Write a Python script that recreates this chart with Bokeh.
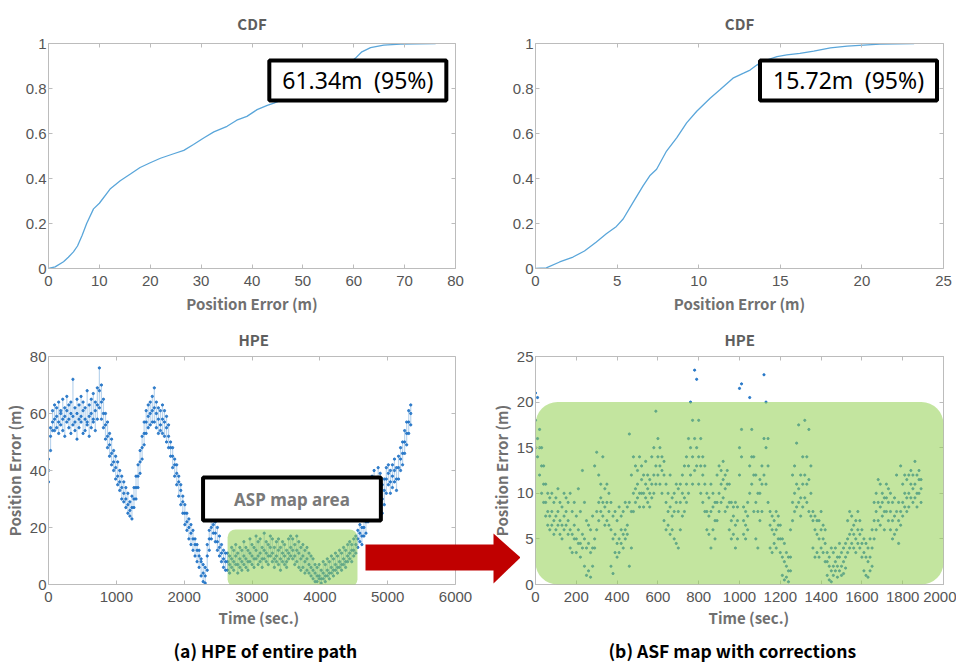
from bokeh.plotting import figure
from bokeh.layouts import row, column
from bokeh.models import (Range1d, LinearAxis, FixedTicker, Label, BoxAnnotation,
                          PolyAnnotation, Title)
from bokeh.embed import file_html
from bokeh.resources import INLINE

# ---------------- data ----------------
cdf_a_x = [0, 1.3, 2.95, 3.9, 4.9, 5.7, 6.6, 7.5, 8.85, 10, 12.1, 14.1, 16.1, 18, 20, 22, 24.6,
           26.6, 28.5, 30.5, 32.5, 35.1, 37, 39, 41, 43, 44.3, 46, 48, 50, 52, 54, 56, 58, 59,
           60.3, 61.6, 63.3, 65.9, 69.2, 72.5, 76.1]
cdf_a_y = [0, 0.007, 0.03, 0.05, 0.074, 0.1, 0.147, 0.2, 0.265, 0.29, 0.353, 0.39, 0.42, 0.449,
           0.47, 0.49, 0.51, 0.525, 0.551, 0.58, 0.607, 0.632, 0.659, 0.676, 0.706, 0.725, 0.735,
           0.75, 0.77, 0.79, 0.81, 0.83, 0.86, 0.89, 0.91, 0.934, 0.963, 0.982, 0.993, 0.997,
           0.9985, 1.0]
cdf_b_x = [0, 0.66, 1.48, 2.3, 3.0, 3.73, 4.34, 4.96, 5.37, 5.98, 6.6, 7.0, 7.42, 8.03, 8.65,
           9.26, 9.88, 10.7, 11.3, 12.1, 12.75, 13.15, 13.56, 13.8, 14.3, 14.8, 15.4, 16.2,
           17.05, 18.07, 19.1, 20.1, 21.1, 22.2, 23.2]
cdf_b_y = [0, 0.003, 0.029, 0.051, 0.078, 0.118, 0.154, 0.187, 0.22, 0.294, 0.368, 0.412, 0.441,
           0.522, 0.581, 0.647, 0.699, 0.757, 0.794, 0.846, 0.868, 0.882, 0.904, 0.915, 0.93,
           0.942, 0.949, 0.956, 0.966, 0.981, 0.988, 0.993, 0.997, 0.9985, 1.0]

hpe_a_time = [0, 30, 60, 90, 120, 150, 180, 210, 240, 270, 300, 330, 360, 390, 420, 450, 480,
              510, 540, 570, 600, 630, 660, 690, 720, 750, 780, 810, 840, 870, 900, 930, 960,
              990, 1020, 1050, 1080, 1110, 1140, 1170, 1200, 1230, 1260, 1290, 1320, 1350, 1380,
              1410, 1440, 1470, 1500, 1530, 1560, 1590, 1620, 1650, 1680, 1710, 1740, 1770, 1800,
              1830, 1860, 1890, 1920, 1950, 1980, 2010, 2040, 2070, 2100, 2130, 2160, 2190, 2220,
              2250, 2280, 2310, 2340, 2370, 2400, 2430, 2460, 2490, 2520, 2550, 2580, 2610, 2640,
              2670, 2700, 2730, 2760, 2790, 2820, 2850, 2880, 2910, 2940, 2970, 3000, 3030, 3060,
              3090, 3120, 3150, 3180, 3210, 3240, 3270, 3300, 3330, 3360, 3390, 3420, 3450, 3480,
              3510, 3540, 3570, 3600, 3630, 3660, 3690, 3720, 3750, 3780, 3810, 3840, 3870, 3900,
              3930, 3960, 3990, 4020, 4050, 4080, 4110, 4140, 4170, 4200, 4230, 4260, 4290, 4320,
              4350, 4380, 4410, 4440, 4470, 4500, 4530, 4560, 4590, 4620, 4650, 4680, 4710, 4740,
              4770, 4800, 4830, 4860, 4890, 4920, 4950, 4980, 5010, 5040, 5070, 5100, 5130, 5160,
              5190, 5220, 5250, 5280, 5310, 5340]
hpe_a_mid = [40, 52, 57,
             58, 59, 57, 60, 58, 59, 61, 58, 60, 59, 57, 60, 58, 59, 61, 58, 57, 59, 60, 58, 61, 63,
             68, 64, 60, 56, 52,
             49, 46, 43, 41, 38, 36, 34, 32, 30, 28, 26,
             27, 30, 34, 38, 43, 48, 53, 57,
             59, 60, 61, 62, 60, 58, 56, 58, 57, 55,
             52, 48, 45, 42, 39, 36, 33, 29, 25, 22, 20, 18, 16, 14, 12, 10, 8, 4, 3,
             10, 16, 20, 21, 18, 15, 13, 11, 9, 8,
             8, 7, 9, 8, 10, 7, 9, 8, 10, 9, 8, 11, 10, 9, 12, 10, 11, 9, 12, 11,
             10, 13, 11, 9, 10, 12, 9, 11, 10, 8, 11, 13, 12, 10, 12, 11, 9, 10, 8, 9,
             7, 6, 5, 4, 3, 3, 2, 4, 3, 5, 4, 6, 5, 7, 6, 8, 7, 9, 8, 10, 11, 12, 12, 14,
             16, 18, 17, 20, 22, 26, 30, 33, 35, 31, 36, 34, 30, 33, 37, 39, 36, 38, 40, 37,
             41, 44, 46, 50, 53, 57, 60]
hpe_a_high = [44, 55, 61,
              63, 62, 64, 61, 65, 62, 66, 63, 64, 72, 62, 65, 63, 66, 64, 62, 68, 63, 65, 67, 64, 69,
              76, 70, 65, 60, 57,
              53, 51, 47, 45, 43, 40, 38, 36, 34, 32, 29,
              31, 34, 38, 42, 47, 52, 57, 61,
              63, 64, 66, 69, 64, 62, 61, 63, 61, 59,
              56, 50, 48, 44, 42, 38, 35, 31, 28, 25, 23, 21, 19, 16, 14, 12, 9, 7, 6,
              14, 19, 23, 24, 22, 20, 17, 14, 12, 11,
              11, 10, 13, 12, 14, 11, 13, 12, 15, 13, 12, 16, 14, 13, 17, 15, 16, 13, 18, 15,
              14, 17, 16, 13, 15, 16, 13, 15, 14, 12, 16, 17, 16, 14, 17, 15, 13, 14, 12, 13,
              11, 10, 9, 7, 6, 7, 5, 8, 7, 9, 8, 10, 9, 11, 10, 12, 11, 13, 12, 14, 15, 14, 16, 17,
              19, 21, 20, 23, 25, 30, 34, 38, 40, 36, 41, 39, 35, 37, 41, 42, 40, 42, 44, 41,
              45, 48, 50, 54, 57, 61, 63]
hpe_a_low = [36, 47, 54,
             54, 55, 53, 56, 54, 52, 57, 55, 53, 56, 54, 51, 55, 57, 53, 54, 56, 52, 55, 57, 54, 58,
             62, 58, 55, 51, 48,
             45, 42, 40, 37, 35, 33, 30, 29, 27, 25, 24,
             23, 27, 30, 34, 39, 44, 49, 53,
             55, 56, 57, 57, 55, 53, 54, 53, 52, 50,
             48, 45, 41, 38, 35, 31, 28, 25, 21, 19, 16, 14, 12, 10, 8, 6, 3, 1, 0.5,
             5, 12, 16, 18, 15, 12, 10, 8, 6, 5,
             5, 4, 6, 5, 7, 4, 6, 5, 7, 6, 5, 8, 7, 6, 9, 7, 8, 6, 9, 8,
             7, 10, 8, 6, 8, 7, 5, 8, 7, 6, 9, 10, 9, 7, 8, 6, 5, 6, 4, 5,
             4, 3, 2, 1, 1, 2, 0.5, 2, 1, 3, 2, 4, 3, 5, 4, 6, 5, 7, 6, 8, 9, 8, 10, 11,
             13, 15, 14, 17, 18, 22, 26, 29, 30, 26, 31, 29, 25, 28, 32, 35, 32, 34, 36, 33,
             37, 40, 42, 46, 49, 53, 56]

hpe_b_time = [0, 10, 20, 30, 40, 50, 60, 70, 80, 90, 100, 110, 120, 130, 140, 150, 160, 170, 180,
              190, 200, 210, 220, 230, 240, 250, 260, 270, 280, 290, 300, 310, 320, 330, 340, 350,
              360, 370, 380, 390, 400, 410, 420, 430, 440, 450, 460, 470, 480, 490, 500, 510, 520,
              530, 540, 550, 560, 570, 580, 590, 600, 610, 620, 630, 640, 650, 660, 670, 680, 690,
              700, 710, 720, 730, 740, 750, 760, 770, 780, 790, 800, 810, 820, 830, 840, 850, 860,
              870, 880, 890, 900, 910, 920, 930, 940, 950, 960, 970, 980, 990, 1000, 1010, 1020,
              1030, 1040, 1050, 1060, 1070, 1080, 1090, 1100, 1110, 1120, 1130, 1140, 1150, 1160,
              1170, 1180, 1190, 1200, 1210, 1220, 1230, 1240, 1250, 1260, 1270, 1280, 1290, 1300,
              1310, 1320, 1330, 1340, 1350, 1360, 1370, 1380, 1390, 1400, 1410, 1420, 1430, 1440,
              1450, 1460, 1470, 1480, 1490, 1500, 1510, 1520, 1530, 1540, 1550, 1560, 1570, 1580,
              1590, 1600, 1610, 1620, 1630, 1640, 1650, 1660, 1670, 1680, 1690, 1700, 1710, 1720,
              1730, 1740, 1750, 1760, 1770, 1780, 1790, 1800, 1810, 1820, 1830, 1840, 1850, 1860,
              1870, 1880, 1890]
hpe_b_mid = [18, 16, 15, 13, 11,
             9, 8, 7.5, 8, 7, 7.5, 8, 7, 6.5, 7.5, 8, 7,
             6, 5.5, 6.5, 5, 6, 4.5, 5.5, 5, 4, 4.5,
             3.5, 4, 5,
             8, 9, 9.5, 9, 8.5, 9, 8,
             6, 5, 5.5, 4.5, 5, 6, 5.5, 6, 6.5,
             9, 8, 10,
             10.5, 11, 10, 11.5, 10, 11, 10.5, 10, 11, 12,
             13, 14, 13, 12.5, 12,
             9, 8, 8.5, 7.5, 8, 9,
             8, 9, 10, 9.5, 11,
             13, 15, 14, 16, 15, 14, 13, 12, 11,
             8, 7.5, 8, 8.5, 7, 9,
             10, 11, 11.5, 10.5, 11, 9,
             7, 7.5, 6.5, 7,
             15, 17,
             7, 6.5, 7.5,
             13, 14, 12,
             9, 8, 10, 11,
             16, 15, 13,
             6.5, 6, 5.5, 6, 6.5, 5,
             3, 2.5, 2, 1.5, 3,
             9, 10, 11, 10.5, 9.5, 11, 12, 11, 11.5, 10,
             7, 6, 5.5, 5, 6, 5, 4.5,
             2.5, 2, 1.5, 2, 2.5, 2, 3, 2, 2.5, 3,
             5, 5.5, 6, 5.5, 5, 6, 5.5, 4.5,
             3.5, 3, 2.5, 3, 4,
             7, 8, 9, 8.5, 9, 8, 9.5, 9,
             8, 7, 7.5, 8, 7, 8,
             9, 10, 9.5, 10, 11, 10.5, 11, 10, 11.5, 10.5]
hpe_b_high = [21, 20.5, 17, 15, 13,
              11, 10, 9.5, 10, 9, 9.5, 10.5, 9, 8.5, 10, 9.5, 9,
              10, 8, 9, 7.5, 10.5, 8, 12.5, 9, 7, 6.5,
              6, 7.5, 13,
              14.5, 12, 11, 14, 10.5, 11, 10,
              9, 7.5, 8, 7, 8.5, 7.5, 8, 9, 8.5,
              16.5, 12, 14,
              13, 12.5, 14, 13, 12, 13.5, 12, 11.5, 14, 15,
              19, 16, 15, 14, 13.5,
              11, 10, 12, 9.5, 10, 11,
              10.5, 11, 12, 13, 14,
              16, 20, 18, 23.5, 22.5, 18, 16, 14, 13,
              10, 9.5, 11, 10, 9, 12,
              13, 12.5, 13.5, 12, 12.5, 11,
              9, 8.5, 9, 8.5,
              21.5, 22,
              8.5, 8, 9,
              20.5, 17, 14,
              12, 10, 11.5, 13,
              23, 20, 16,
              8, 7.5, 7, 8, 7.5, 6.5,
              5, 4.5, 3.5, 3, 6,
              12, 13, 15.5, 17.5, 12, 14, 18, 14, 17, 13,
              8, 7.5, 7, 7, 8, 6.5, 6,
              3.5, 3, 4, 3.5, 4, 3, 4.5, 3.5, 4, 4.5,
              7, 8, 7.5, 6.5, 7, 8, 7, 6,
              5, 4.5, 4, 5, 6,
              9, 10, 11.5, 11, 10, 9.5, 11, 10.5,
              10, 9, 9.5, 12, 9, 13,
              11, 12, 11.5, 12, 12.5, 12, 13.5, 12, 12.5, 11.5]
hpe_b_low = [15, 14, 12, 10, 9,
             7.5, 6.5, 6, 6.5, 5.5, 6, 6.5, 5.5, 5, 6, 6.5, 5.5,
             4, 3.5, 5, 3.5, 4.5, 3, 4, 2, 1, 1.5,
             0.8, 2, 4,
             6, 7, 8, 7.5, 6.5, 7, 6.5,
             2, 1.2, 3.5, 3, 3.5, 4.5, 4, 5, 5.5,
             2, 4, 8,
             9, 9.5, 8.5, 10, 8.5, 9.5, 9, 8.5, 9.5, 10,
             11, 12, 11, 10, 7,
             6, 6.5, 5.5, 6, 5, 4.5,
             4, 6, 7.5, 8, 9,
             10, 12, 11, 12.5, 13, 11, 10, 9, 8,
             6, 5.5, 4, 6, 5, 7,
             8, 9, 9.5, 8, 8.5, 6,
             5, 5.5, 4, 5,
             12, 14,
             5.5, 5, 6,
             10, 11, 8,
             5, 4, 7, 8,
             12, 11, 9,
             4, 3.5, 4.5, 4, 5, 3.5,
             1, 0.5, 0.8, 0.3, 1.5,
             7, 8, 8.5, 9, 7.5, 8.5, 9.5, 9, 8, 7.5,
             4, 3, 3.5, 3, 4, 3.5, 2.5,
             1, 0.5, 0.3, 1, 1.5, 0.8, 1.5, 1, 1.2, 1.8,
             3.5, 4, 4.5, 4, 3.5, 4.5, 4, 3,
             1.5, 1, 0.8, 1.5, 2,
             5, 6, 7, 6.5, 7.5, 6, 8, 7,
             6, 5, 5.5, 6, 4.5, 6.5,
             7.5, 8.5, 8, 8.5, 9.5, 9, 9.5, 8.5, 10, 9]

cdf_ticks_a = [0, 10, 20, 30, 40, 50, 60, 70, 80]
cdf_ticks_b = [0, 5, 10, 15, 20, 25]
cdf_y_ticks = [0, 0.2, 0.4, 0.6, 0.8, 1]
cdf_y_labels = ["0", "0.2", "0.4", "0.6", "0.8", "1"]
hpe_a_x_ticks = [0, 1000, 2000, 3000, 4000, 5000, 6000]
hpe_a_y_ticks = [0, 20, 40, 60, 80]
hpe_b_x_ticks = [0, 200, 400, 600, 800, 1000, 1200, 1400, 1600, 1800, 2000]
hpe_b_y_ticks = [0, 5, 10, 15, 20, 25]

# ---------------- styling ----------------
AXIS_COLOR = "#bcbcbc"
TICK_TEXT = "#555555"
LABEL_TEXT = "#707070"
TITLE_TEXT = "#5e5e5e"
TICK_FONT = "'Liberation Sans Narrow', 'Liberation Sans', sans-serif"
BOLD_FONT = "Noto Sans CJK KR"
CURVE = "#5aa6da"
DOT = "#1a6fc4"
GREEN = "#92d050"
RED = "#c00000"


def style_axis(ax, with_labels, vertical=False):
    ax.axis_line_color = AXIS_COLOR
    ax.major_tick_line_color = AXIS_COLOR
    ax.major_tick_in = 4
    ax.major_tick_out = 0
    ax.minor_tick_line_color = None
    if with_labels:
        ax.major_label_text_font = TICK_FONT
        ax.major_label_text_font_size = "15px"
        ax.major_label_text_color = TICK_TEXT
        ax.major_label_standoff = 2 if vertical else 7
        ax.axis_label_text_font = BOLD_FONT
        ax.axis_label_text_font_style = "bold"
        ax.axis_label_text_font_size = "15px"
        ax.axis_label_text_color = LABEL_TEXT
        ax.axis_label_standoff = 2 if vertical else 4
    else:
        ax.major_label_text_font_size = "1px"
        ax.major_label_text_color = None
        ax.major_label_standoff = 0


def base_figure(width, height, xr, yr, borders, title, title_standoff, title_align,
                title_offset, **kw):
    ml, mr, mt, mb = borders
    p = figure(width=width, height=height, x_range=Range1d(*xr), y_range=Range1d(*yr),
               x_axis_type=None, y_axis_type=None, output_backend="svg",
               toolbar_location=None, min_border_left=ml, min_border_right=mr,
               min_border_top=mt, min_border_bottom=mb, title=title, **kw)
    p.outline_line_color = None
    p.title.align = title_align
    p.title.offset = title_offset
    p.title.text_font = BOLD_FONT
    p.title.text_font_style = "bold"
    p.title.text_font_size = "15px"
    p.title.text_color = TITLE_TEXT
    p.title.standoff = title_standoff
    return p


def add_axes(p, xticks, yticks, xlabel=None, ylabel=None, xbounds="auto", ylabels=None,
             fix_right=None):
    xb = LinearAxis(ticker=FixedTicker(ticks=xticks), axis_label=xlabel, bounds=xbounds)
    style_axis(xb, True)
    p.add_layout(xb, "below")
    yl = LinearAxis(ticker=FixedTicker(ticks=yticks), axis_label=ylabel)
    style_axis(yl, True, vertical=True)
    if ylabels is not None:
        yl.major_label_overrides = {t: l for t, l in zip(yticks, ylabels)}
    p.add_layout(yl, "left")
    xa = LinearAxis(ticker=FixedTicker(ticks=xticks), bounds=xbounds)
    style_axis(xa, False)
    p.add_layout(xa, "above")
    yr_ax = LinearAxis(ticker=FixedTicker(ticks=yticks))
    style_axis(yr_ax, False)
    if fix_right is not None:
        yr_ax.fixed_location = fix_right
    p.add_layout(yr_ax, "right")


def value_box(p, x, y, text):
    p.add_layout(Label(x=x, y=y, text=text, text_align="center", text_baseline="middle",
                       text_font="Noto Sans", text_font_size="23px", text_color="black",
                       background_fill_color="white", border_line_color="black",
                       border_line_width=4, padding=(13, 4)))


def below_titles(p, xlabel, xlabel_offset, cap, cap_offset):
    p.add_layout(Title(text=xlabel, align="left", offset=xlabel_offset, text_font=BOLD_FONT,
                       text_font_style="bold", text_font_size="15px", text_color=LABEL_TEXT,
                       standoff=1), "below")
    p.add_layout(Title(text=cap, align="left", offset=cap_offset, text_font=BOLD_FONT,
                       text_font_style="bold", text_font_size="17.5px", text_color="black",
                       standoff=14), "below")


# ---- top-left: CDF (a) ----
p1 = base_figure(493, 320, (0, 80), (0, 1), (48, 38, 42, 52), "CDF", 20, "center", 0)
add_axes(p1, cdf_ticks_a, cdf_y_ticks, xlabel="Position Error (m)", ylabels=cdf_y_labels)
p1.line(cdf_a_x, cdf_a_y, line_color=CURVE, line_width=1.3)
value_box(p1, 60.8, 0.836, "61.34m\u2002(95%)")

# ---- top-right: CDF (b) ----
p2 = base_figure(463, 320, (0, 25), (0, 1), (42, 13, 42, 52), "CDF", 20, "center", 0)
add_axes(p2, cdf_ticks_b, cdf_y_ticks, xlabel="Position Error (m)", ylabels=cdf_y_labels)
p2.line(cdf_b_x, cdf_b_y, line_color=CURVE, line_width=1.3)
value_box(p2, 19.18, 0.836, "15.72m\u2002(95%)")

# ---- bottom-left: HPE of entire path; its frame runs on under the right panel's
#      transparent margin so that it can carry the whole red arrow ----
p3 = base_figure(520, 350, (0, 6958), (0, 80), (48, 0, 36, 86), "HPE", 13, "left", 190)
add_axes(p3, hpe_a_x_ticks, hpe_a_y_ticks, ylabel="Position Error (m)", xbounds=(0, 6000),
         fix_right=6000)
p3.segment(hpe_a_time, hpe_a_low, hpe_a_time, hpe_a_high, line_color=DOT, line_width=1.2,
           line_alpha=0.3)
for ys in (hpe_a_mid, hpe_a_high, hpe_a_low):
    p3.scatter(hpe_a_time, ys, size=2.3, color=DOT, alpha=0.85)
p3.add_layout(BoxAnnotation(left=2640, right=4555, bottom=-1, top=19.3, fill_color=GREEN,
                            fill_alpha=0.55, line_alpha=0, border_radius=8))
p3.add_layout(Label(x=3589, y=30.0, text="ASP map area", text_align="center",
                    text_baseline="middle", text_font="Noto Sans", text_font_style="bold",
                    text_font_size="17px", text_color="#7a7a7a",
                    background_fill_color="white", border_line_color="black",
                    border_line_width=4, padding=(31, 10)))
p3.add_layout(BoxAnnotation(left=4673, right=6570, bottom=4.9, top=14.0, fill_color=RED,
                            fill_alpha=1, line_alpha=0))
p3.add_layout(PolyAnnotation(xs=[6560, 6958, 6560], ys=[17.9, 9.47, 0.35], fill_color=RED,
                             fill_alpha=1, line_alpha=0))
below_titles(p3, "Time (sec.)", 170, "(a) HPE of entire path", 125)

# ---- bottom-right: ASF map with corrections (transparent border overlapping p3) ----
p4 = base_figure(469, 350, (0, 2000), (0, 25), (48, 13, 36, 86), "HPE", 13, "left", 189,
                 margin=(0, 0, 0, -33))
p4.border_fill_alpha = 0
add_axes(p4, hpe_b_x_ticks, hpe_b_y_ticks, ylabel="Position Error (m)")
p4.outline_line_color = AXIS_COLOR
for ys in (hpe_b_mid, hpe_b_high, hpe_b_low):
    p4.scatter(hpe_b_time, ys, size=2.2, color=DOT, alpha=0.9)
p4.add_layout(BoxAnnotation(left=0, right=2000, bottom=0, top=20, fill_color=GREEN,
                            fill_alpha=0.55, line_alpha=0, border_radius=22))
below_titles(p4, "Time (sec.)", 173, "(b) ASF map with corrections", 73)

layout = column(row(p1, p2), row(p3, p4))
open("out.html", "w").write(file_html(layout, INLINE))
